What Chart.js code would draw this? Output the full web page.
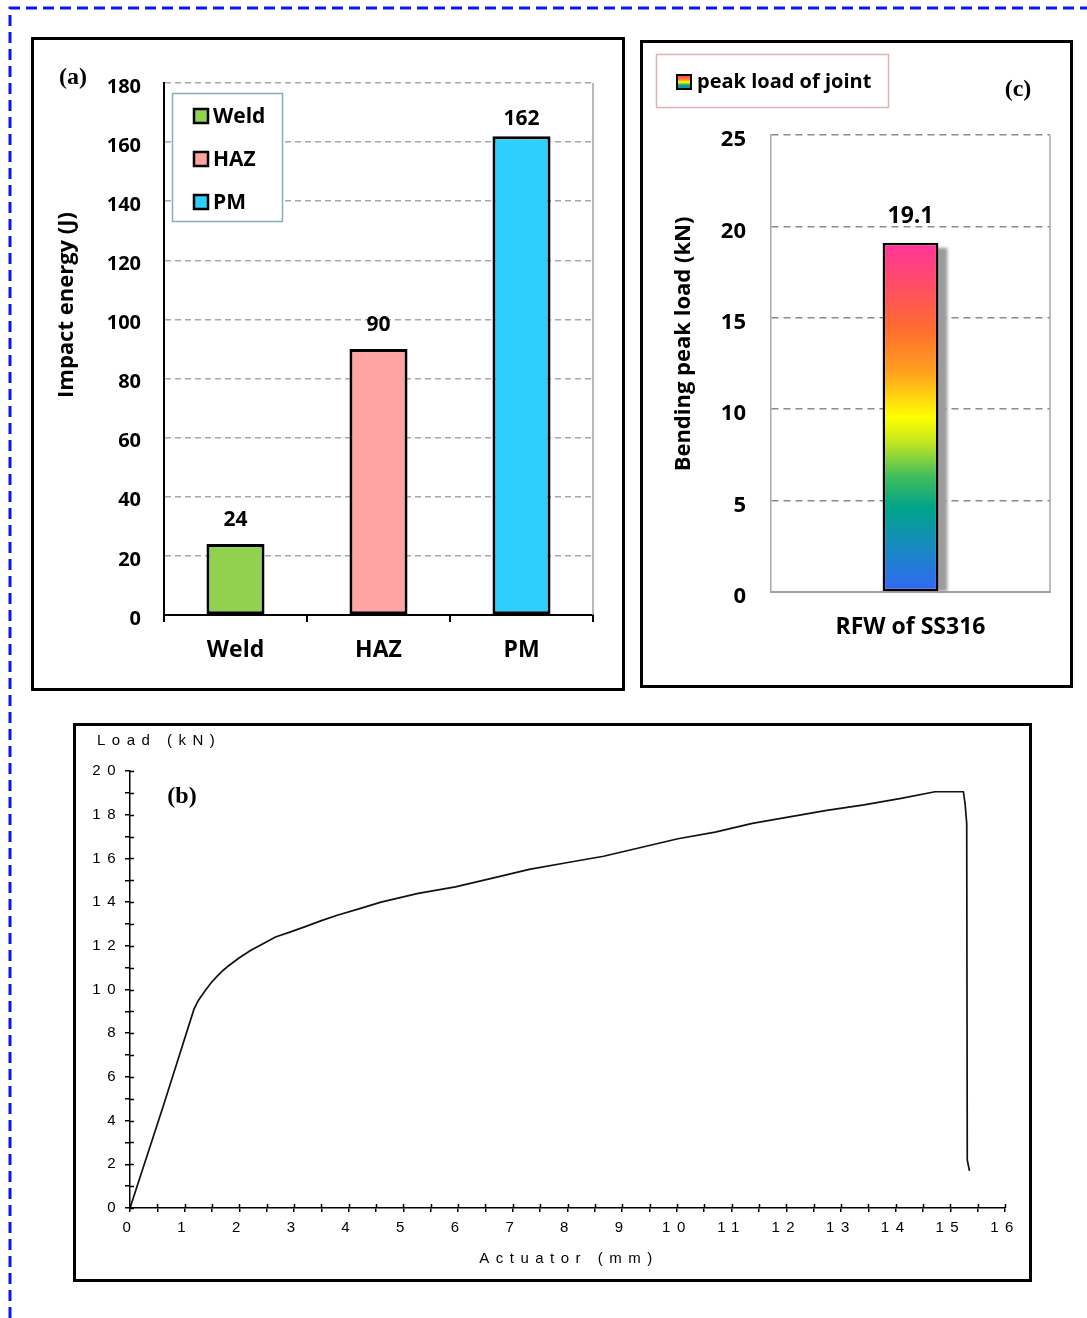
<!DOCTYPE html>
<html>
<head>
<meta charset="utf-8">
<script src="https://cdn.jsdelivr.net/npm/chart.js@4.4.1/dist/chart.umd.min.js"></script>
<style>
  html, body { margin: 0; padding: 0; background: #fff; overflow: hidden; }
  body { width: 1087px; height: 1318px; position: relative; }
  .panel { position: absolute; border: 3px solid #000; background: #fff; box-sizing: border-box; }
  canvas { position: absolute; display: block; }
  #frame { position: absolute; left: 0; top: 0; }
</style>
</head>
<body>
<svg id="frame" width="1087" height="1318">
  <polyline points="10,1318 10,8 1087,8" fill="none" stroke="#0b16f5" stroke-width="3" stroke-dasharray="11 6"/>
</svg>
<div class="panel" style="left:31px;top:37px;width:594px;height:654px;"></div>
<div class="panel" style="left:640px;top:40px;width:433px;height:648px;"></div>
<div class="panel" style="left:73px;top:723px;width:959px;height:559px;"></div>
<canvas id="chartA" width="588" height="648" style="left:34px;top:40px;"></canvas>
<canvas id="chartC" width="427" height="642" style="left:643px;top:43px;"></canvas>
<canvas id="chartB" width="953" height="553" style="left:76px;top:726px;"></canvas>
<script>
// ---------------- DATA ----------------
// (a) Impact energy
const zones = ['Weld', 'HAZ', 'PM'];
const impactEnergy = [24, 90, 162];
const zoneColors = ['#92d050', '#ffa3a3', '#2ecffc'];
const impactTicks = [0, 20, 40, 60, 80, 100, 120, 140, 160, 180];

// (c) Bending peak load
const jointCategory = ['RFW of SS316'];
const peakLoad = [19.1];
const peakLegend = 'peak load of joint';
const peakTicks = [0, 5, 10, 15, 20, 25];

// (b) Load vs actuator displacement
const actuatorMm = [0, 0.6, 1.17, 1.25, 1.36, 1.48, 1.59, 1.7, 1.81, 2.0, 2.21, 2.45, 2.66, 2.95, 3.23, 3.5, 3.79, 4.2, 4.59, 5.27, 5.95, 6.63, 7.3, 7.98, 8.66, 9.34, 10.02, 10.7, 11.38, 12.06, 12.74, 13.42, 14.1, 14.72, 15.24, 15.27, 15.3, 15.31, 15.35];
const loadKn =     [0, 4.6, 9.1, 9.5, 9.9, 10.3, 10.6, 10.87, 11.1, 11.45, 11.8, 12.12, 12.4, 12.65, 12.9, 13.15, 13.4, 13.7, 14.0, 14.4, 14.7, 15.1, 15.5, 15.8, 16.1, 16.5, 16.9, 17.2, 17.6, 17.9, 18.2, 18.45, 18.75, 19.05, 19.05, 18.5, 17.6, 2.2, 1.7];

// ---------------- SETUP ----------------
Chart.defaults.devicePixelRatio = 1;
Chart.defaults.animation = false;
Chart.defaults.font.family = "'Open Sans', 'DejaVu Sans', sans-serif";
Chart.defaults.color = '#000';
const SANS = "'Open Sans', 'DejaVu Sans', sans-serif";
const SERIF = "'Liberation Serif', 'DejaVu Serif', serif";
const MONO = "'Liberation Sans', Arial, sans-serif";

// ---------- Chart (a) ----------
const plugA = {
  id: 'plugA',
  afterDraw(chart) {
    const ctx = chart.ctx, a = chart.chartArea;
    ctx.save();
    ctx.strokeStyle = '#a0a0a0'; ctx.lineWidth = 1.5;
    ctx.beginPath(); ctx.moveTo(a.right, a.top); ctx.lineTo(a.right, a.bottom); ctx.stroke();
    const meta = chart.getDatasetMeta(0);
    ctx.font = `bold 21px ${SANS}`;
    ctx.textAlign = 'center'; ctx.textBaseline = 'middle'; ctx.fillStyle = '#000';
    meta.data.forEach((bar, i) => {
      const y = Math.max(bar.y - 24, a.top + 36);
      ctx.fillText(String(impactEnergy[i]), bar.x, y);
    });
    // legend box
    ctx.fillStyle = '#fff';
    ctx.fillRect(138, 53, 110, 128);
    ctx.strokeStyle = '#86aebf'; ctx.lineWidth = 1.5;
    ctx.strokeRect(138.5, 53.5, 110, 128);
    zones.forEach((z, i) => {
      const cy = 76 + i * 43;
      ctx.fillStyle = zoneColors[i];
      ctx.fillRect(160, cy - 7, 14, 14);
      ctx.strokeStyle = '#000'; ctx.lineWidth = 2.5;
      ctx.strokeRect(160, cy - 7, 14, 14);
      ctx.fillStyle = '#000'; ctx.textAlign = 'left'; ctx.font = `bold 21px ${SANS}`;
      ctx.fillText(z, 179, cy + 1);
    });
    ctx.save();
    ctx.translate(33, 265); ctx.rotate(-Math.PI / 2);
    ctx.textAlign = 'center'; ctx.textBaseline = 'middle'; ctx.font = `bold 22px ${SANS}`;
    ctx.fillText('Impact energy (J)', 0, 0);
    ctx.restore();
    ctx.font = `bold 24px ${SERIF}`; ctx.textAlign = 'center'; ctx.textBaseline = 'middle';
    ctx.fillText('(a)', 39, 38);
    ctx.restore();
  }
};

new Chart(document.getElementById('chartA'), {
  type: 'bar',
  data: {
    labels: zones,
    datasets: [{
      label: 'Impact energy',
      data: impactEnergy,
      backgroundColor: zoneColors,
      borderColor: '#000',
      borderWidth: 3,
      borderSkipped: false,
      barPercentage: 0.406,
      categoryPercentage: 1
    }]
  },
  options: {
    responsive: false,
    layout: { padding: { left: 0, right: 29, top: 43, bottom: 0 } },
    plugins: { legend: { display: false }, tooltip: { enabled: false } },
    scales: {
      x: {
        afterFit(s) { s.height = 73; },
        grid: { display: true, drawOnChartArea: false, drawTicks: true, tickLength: 7, color: '#000', lineWidth: 2, offset: true },
        border: { display: true, color: '#000', width: 2 },
        ticks: { font: { size: 23, weight: 'bold' }, padding: 15, color: '#000' }
      },
      y: {
        min: 0, max: 180,
        afterFit(s) { s.width = 130; },
        afterBuildTicks(s) { s.ticks = impactTicks.map(v => ({ value: v })); },
        grid: {
          drawTicks: false,
          color: c => (c.tick && c.tick.value === 0) ? 'rgba(0,0,0,0)' : '#a8a8a8',
          lineWidth: 1.5
        },
        border: { display: true, color: '#000', width: 2, dash: [6, 4] },
        ticks: { font: { size: 20, weight: 'bold' }, padding: 23, labelOffset: 4, color: '#000' }
      }
    }
  },
  plugins: [plugA]
});

// ---------- Chart (c) ----------
const gradStops = [
  [0.00, '#3366f5'], [0.12, '#1a88c4'], [0.24, '#00a38a'], [0.33, '#3fbd5c'],
  [0.43, '#c6e620'], [0.50, '#ffff00'], [0.63, '#ffa01e'], [0.76, '#ff6a30'],
  [0.87, '#ff4f62'], [1.00, '#ff3399']
];
function makeGrad(ctx, y0, y1) {
  const g = ctx.createLinearGradient(0, y0, 0, y1);
  gradStops.forEach(([o, c]) => g.addColorStop(o, c));
  return g;
}

const plugC = {
  id: 'plugC',
  beforeDatasetsDraw(chart) {
    const ctx = chart.ctx;
    const bar = chart.getDatasetMeta(0).data[0];
    if (!bar) return;
    ctx.save();
    ctx.filter = 'blur(1.5px)';
    ctx.fillStyle = '#9c9c9c';
    ctx.fillRect(bar.x + bar.width / 2 - 2, bar.y + 5, 11, bar.base - bar.y - 5);
    ctx.restore();
  },
  afterDraw(chart) {
    const ctx = chart.ctx, a = chart.chartArea;
    ctx.save();
    ctx.strokeStyle = '#a8a8a8'; ctx.lineWidth = 1.5;
    ctx.beginPath(); ctx.moveTo(a.right, a.top); ctx.lineTo(a.right, a.bottom); ctx.stroke();
    const bar = chart.getDatasetMeta(0).data[0];
    ctx.fillStyle = '#000';
    ctx.font = `bold 23px ${SANS}`; ctx.textAlign = 'center'; ctx.textBaseline = 'middle';
    ctx.fillText(String(peakLoad[0]), bar.x, bar.y - 26);
    // legend
    ctx.strokeStyle = '#dcb4b4'; ctx.lineWidth = 1.5;
    ctx.strokeRect(13.5, 11.5, 232, 53);
    ctx.fillStyle = makeGrad(ctx, 46, 32);
    ctx.fillRect(34, 32, 14, 14);
    ctx.strokeStyle = '#000'; ctx.lineWidth = 2;
    ctx.strokeRect(34, 32, 14, 14);
    ctx.fillStyle = '#000'; ctx.textAlign = 'left'; ctx.font = `bold 20px ${SANS}`;
    ctx.fillText(peakLegend, 54, 39);
    ctx.save();
    ctx.translate(41, 301); ctx.rotate(-Math.PI / 2);
    ctx.textAlign = 'center'; ctx.font = `bold 22px ${SANS}`;
    ctx.fillText('Bending peak load (kN)', 0, 0);
    ctx.restore();
    ctx.font = `bold 24px ${SERIF}`; ctx.textAlign = 'center';
    ctx.fillText('(c)', 375, 47);
    ctx.restore();
  }
};

new Chart(document.getElementById('chartC'), {
  type: 'bar',
  data: {
    labels: jointCategory,
    datasets: [{
      label: peakLegend,
      data: peakLoad,
      backgroundColor: (c) => {
        const ch = c.chart;
        if (!ch.chartArea) return '#ffff00';
        const ys = ch.scales.y;
        return makeGrad(ch.ctx, ys.getPixelForValue(0), ys.getPixelForValue(c.raw));
      },
      borderColor: '#000',
      borderWidth: 2.5,
      borderSkipped: false,
      barPercentage: 0.2,
      categoryPercentage: 1
    }]
  },
  options: {
    responsive: false,
    layout: { padding: { left: 0, right: 20, top: 92, bottom: 0 } },
    plugins: { legend: { display: false }, tooltip: { enabled: false } },
    scales: {
      x: {
        afterFit(s) { s.height = 93; },
        grid: { display: true, drawOnChartArea: false, drawTicks: false, color: 'rgba(0,0,0,0)' },
        border: { display: true, color: '#a0a0a0', width: 2 },
        ticks: { font: { size: 23, weight: 'bold' }, padding: 22, color: '#000' }
      },
      y: {
        min: 0, max: 25,
        afterFit(s) { s.width = 128; },
        afterBuildTicks(s) { s.ticks = peakTicks.map(v => ({ value: v })); },
        grid: {
          drawTicks: false,
          color: c => (c.tick && c.tick.value === 0) ? 'rgba(0,0,0,0)' : '#8a8a8a',
          lineWidth: 1.5
        },
        border: { display: true, color: '#a8a8a8', width: 1.5, dash: [7, 5] },
        ticks: { font: { size: 22, weight: 'bold' }, padding: 25, labelOffset: 5, color: '#000' }
      }
    }
  },
  plugins: [plugC]
});

// ---------- Chart (b) ----------
const plugB = {
  id: 'plugB',
  beforeDraw(chart) { chart.ctx.letterSpacing = '6.5px'; },
  afterDraw(chart) {
    const ctx = chart.ctx, a = chart.chartArea;
    const xs = chart.scales.x, ys = chart.scales.y;
    ctx.save();
    ctx.strokeStyle = '#000'; ctx.lineWidth = 1.5;
    ctx.beginPath();
    ys.ticks.forEach(t => { const y = Math.round(ys.getPixelForValue(t.value)) + 0.5; ctx.moveTo(a.left, y); ctx.lineTo(a.left + 4, y); });
    xs.ticks.forEach(t => { const x = Math.round(xs.getPixelForValue(t.value)) + 0.5; ctx.moveTo(x, a.bottom); ctx.lineTo(x, a.bottom - 4); });
    ctx.stroke();
    ctx.letterSpacing = '6.5px';
    ctx.fillStyle = '#000';
    ctx.font = `15px ${MONO}`;
    ctx.textBaseline = 'middle'; ctx.textAlign = 'left';
    ctx.fillText('Load (kN)', 21, 15);
    ctx.textAlign = 'center';
    ctx.fillText('Actuator (mm)', 493, 533);
    ctx.letterSpacing = '0px';
    ctx.font = `bold 24px ${SERIF}`;
    ctx.fillText('(b)', 106, 71);
    ctx.restore();
  }
};

new Chart(document.getElementById('chartB'), {
  type: 'scatter',
  data: {
    datasets: [{
      label: 'Load',
      data: actuatorMm.map((x, i) => ({ x: x, y: loadKn[i] })),
      showLine: true,
      borderColor: '#111',
      borderWidth: 1.7,
      pointRadius: 0,
      tension: 0,
      fill: false
    }]
  },
  options: {
    responsive: false,
    layout: { padding: { left: 0, right: 24, top: 45, bottom: 0 } },
    plugins: { legend: { display: false }, tooltip: { enabled: false } },
    scales: {
      x: {
        type: 'linear', min: 0, max: 16,
        afterFit(s) { s.height = 71; },
        ticks: {
          stepSize: 0.5, autoSkip: false, maxRotation: 0, padding: 7,
          font: { size: 15, family: MONO }, color: '#000',
          callback: v => (Number.isInteger(v) ? String(v) : '')
        },
        grid: { drawOnChartArea: false, drawTicks: true, tickLength: 4, color: '#000', lineWidth: 1.5 },
        border: { display: true, color: '#000', width: 1.5 }
      },
      y: {
        type: 'linear', min: 0, max: 20,
        afterFit(s) { s.width = 54; },
        ticks: {
          stepSize: 1, autoSkip: false, padding: 3,
          font: { size: 15, family: MONO }, color: '#000',
          callback: v => (v % 2 === 0 ? String(v) : '')
        },
        grid: { drawOnChartArea: false, drawTicks: true, tickLength: 5, color: '#000', lineWidth: 1.5 },
        border: { display: true, color: '#000', width: 1.5 }
      }
    }
  },
  plugins: [plugB]
});
</script>
</body>
</html>
